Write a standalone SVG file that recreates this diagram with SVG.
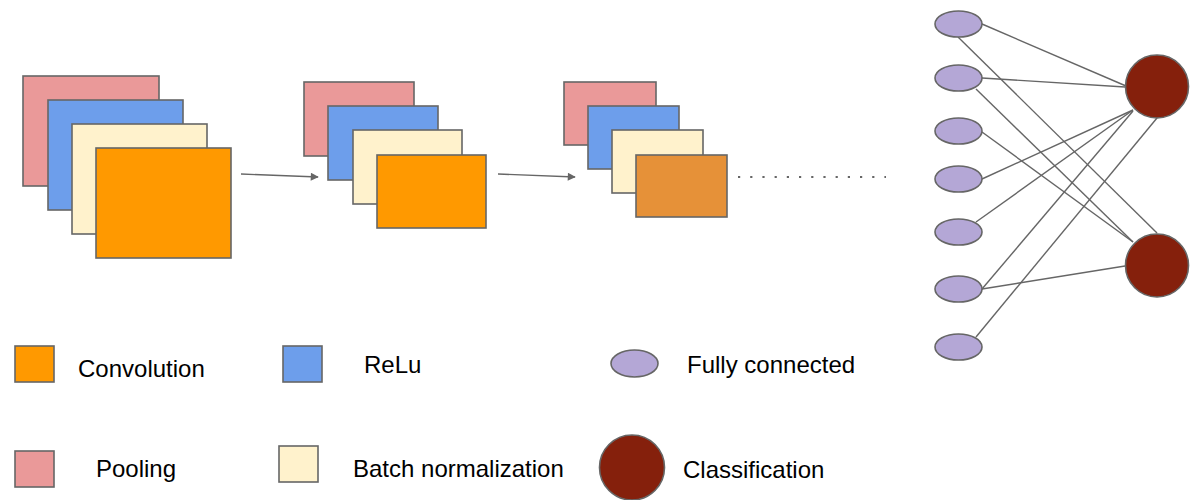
<svg xmlns="http://www.w3.org/2000/svg" width="1198" height="500" viewBox="0 0 1198 500">
<style>
  rect, ellipse, circle { stroke: #666666; stroke-width: 1.6; }
  .pool { fill: #EA9999; }
  .relu { fill: #6D9EEB; }
  .bn { fill: #FFF2CC; }
  .conv { fill: #FF9900; }
  .conv2 { fill: #E69138; }
  .fc { fill: #B4A7D6; }
  .cls { fill: #85200C; }
  .edge { stroke: #666666; stroke-width: 1.4; fill: none; }
  .lbl { font-family: "Liberation Sans", Arial, sans-serif; font-size: 24px; fill: #000000; }
</style>
<defs>
  <marker id="arr" viewBox="0 0 10 10" refX="9" refY="5" markerWidth="10" markerHeight="8" markerUnits="userSpaceOnUse" orient="auto">
    <path d="M0,0 L10,5 L0,10 z" fill="#666666"/>
  </marker>
</defs>

<g id="stack1">
  <rect class="pool" x="23" y="76" width="136" height="110"/>
  <rect class="relu" x="48" y="100" width="135" height="110"/>
  <rect class="bn" x="72" y="124" width="135" height="110"/>
  <rect class="conv" x="96" y="148" width="135" height="110"/>
</g>
<g id="stack2">
  <rect class="pool" x="304" y="82" width="110" height="74"/>
  <rect class="relu" x="328" y="106" width="110" height="74"/>
  <rect class="bn" x="353" y="130" width="109" height="74"/>
  <rect class="conv" x="377" y="155" width="109" height="73"/>
</g>
<g id="stack3">
  <rect class="pool" x="564" y="82" width="92" height="63"/>
  <rect class="relu" x="588" y="106" width="91" height="63"/>
  <rect class="bn" x="612" y="130" width="91" height="63"/>
  <rect class="conv2" x="636" y="155" width="91" height="62"/>
</g>

<g id="connectors">
  <line class="edge" x1="241" y1="174" x2="318" y2="177" marker-end="url(#arr)"/>
  <line class="edge" x1="498" y1="174" x2="575" y2="177" marker-end="url(#arr)"/>
  <line x1="738" y1="177" x2="886" y2="177" stroke="#666666" stroke-width="2.2" stroke-dasharray="2.2 10"/>
  <line class="edge" x1="982" y1="24" x2="1126" y2="86"/>
  <line class="edge" x1="958" y1="37" x2="1157" y2="233"/>
  <line class="edge" x1="982" y1="78" x2="1125" y2="87"/>
  <line class="edge" x1="976" y1="89" x2="1133" y2="242"/>
  <line class="edge" x1="982" y1="132" x2="1133" y2="242"/>
  <line class="edge" x1="982" y1="179" x2="1133" y2="110"/>
  <line class="edge" x1="976" y1="222" x2="1133" y2="110"/>
  <line class="edge" x1="982" y1="289" x2="1133" y2="111"/>
  <line class="edge" x1="982" y1="289" x2="1125" y2="266"/>
  <line class="edge" x1="976" y1="337" x2="1157" y2="118"/>
</g>

<g id="fc-layer">
  <ellipse class="fc" cx="958.5" cy="24" rx="23.5" ry="13"/>
  <ellipse class="fc" cx="958.5" cy="78" rx="23.5" ry="13"/>
  <ellipse class="fc" cx="958.5" cy="131" rx="23.5" ry="13"/>
  <ellipse class="fc" cx="958.5" cy="179" rx="23.5" ry="13"/>
  <ellipse class="fc" cx="958.5" cy="232" rx="23.5" ry="13"/>
  <ellipse class="fc" cx="958.5" cy="289" rx="23.5" ry="13"/>
  <ellipse class="fc" cx="958.5" cy="347" rx="23.5" ry="13"/>
</g>
<g id="classifiers">
  <circle class="cls" cx="1157" cy="86.5" r="31.5"/>
  <circle class="cls" cx="1157" cy="265.5" r="31.5"/>
</g>

<g id="legend-convolution">
  <rect class="conv" x="15" y="346" width="39" height="36"/>
  <text class="lbl" x="78" y="377">Convolution</text>
</g>
<g id="legend-relu">
  <rect class="relu" x="283" y="346" width="39" height="36"/>
  <text class="lbl" x="364" y="373">ReLu</text>
</g>
<g id="legend-fc">
  <ellipse class="fc" cx="634.5" cy="363.5" rx="23.5" ry="13.5"/>
  <text class="lbl" x="687" y="373">Fully connected</text>
</g>
<g id="legend-pooling">
  <rect class="pool" x="15" y="451" width="39" height="36"/>
  <text class="lbl" x="96" y="477">Pooling</text>
</g>
<g id="legend-bn">
  <rect class="bn" x="279" y="446" width="39" height="36"/>
  <text class="lbl" x="353" y="477">Batch normalization</text>
</g>
<g id="legend-classification">
  <circle class="cls" cx="632" cy="467.5" r="32.5"/>
  <text class="lbl" x="683" y="478">Classification</text>
</g>
</svg>
